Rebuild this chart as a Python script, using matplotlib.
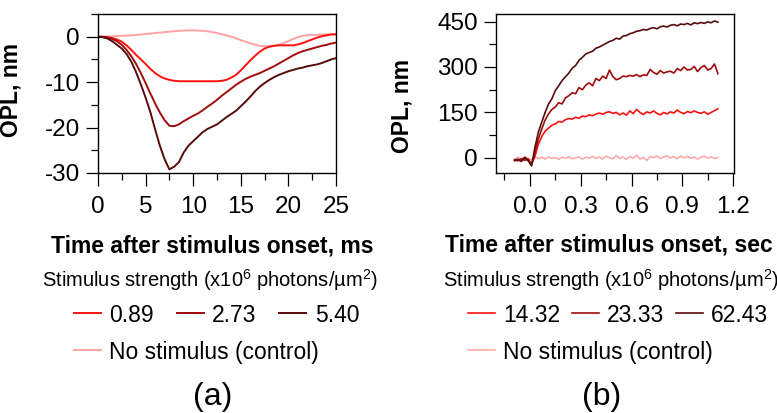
import numpy as np
import matplotlib
matplotlib.use("Agg")
import matplotlib.pyplot as plt
from matplotlib.ticker import MultipleLocator, FormatStrFormatter

plt.rcParams['font.family'] = ['Liberation Sans', 'DejaVu Sans']
plt.rcParams['mathtext.fontset'] = 'custom'
plt.rcParams['mathtext.rm'] = 'Liberation Sans'
plt.rcParams['mathtext.it'] = 'Liberation Sans:italic'
plt.rcParams['mathtext.bf'] = 'Liberation Sans:bold'
plt.rcParams['axes.unicode_minus'] = False

# ---- panel (a): OPL in ms after stimulus ----
t_ms = np.arange(0, 25.01, 0.5)
opl_089 = [0.0, 0.0, -0.1, -0.3, -0.6, -1.1, -1.9, -2.9, -4.0, -5.0,
           -6.0, -7.1, -8.0, -8.7, -9.2, -9.5, -9.7, -9.8, -9.8, -9.8,
           -9.8, -9.8, -9.8, -9.8, -9.8, -9.8, -9.7, -9.5, -9.0, -8.4,
           -7.4, -6.3, -5.2, -4.2, -3.3, -2.6, -2.2, -2.0, -1.9, -1.9,
           -1.9, -1.9, -1.7, -1.4, -1.0, -0.6, -0.2, 0.1, 0.3, 0.5, 0.5]
opl_273 = [0.0, -0.05, -0.2, -0.5, -1.0, -1.8, -2.9, -4.3, -6.0, -8.0,
           -10.2, -12.5, -14.7, -16.7, -18.4, -19.6, -19.7, -19.3, -18.6, -18.0,
           -17.4, -16.9, -16.2, -15.4, -14.7, -13.9, -13.0, -12.2, -11.4, -10.6,
           -9.9, -9.3, -8.8, -8.4, -8.0, -7.5, -7.0, -6.5, -5.9, -5.3,
           -4.7, -4.1, -3.6, -3.2, -2.9, -2.6, -2.3, -2.0, -1.8, -1.5, -1.3]
opl_540 = [0.0, -0.1, -0.4, -1.0, -1.8, -2.6, -3.8, -5.5, -7.8, -10.5,
           -13.4, -16.6, -20.4, -24.0, -27.0, -29.2, -28.6, -27.6, -25.5, -24.0,
           -23.0, -22.0, -21.0, -20.3, -19.8, -19.3, -18.5, -17.7, -17.0, -16.3,
           -15.3, -14.3, -13.2, -12.0, -11.0, -10.2, -9.5, -8.9, -8.4, -8.0,
           -7.6, -7.3, -7.0, -6.8, -6.5, -6.3, -6.1, -5.8, -5.4, -5.0, -4.7]
opl_ctrl_a = [0.0, 0.0, 0.05, 0.1, 0.15, 0.2, 0.25, 0.3, 0.4, 0.5,
              0.6, 0.7, 0.8, 0.9, 1.0, 1.1, 1.2, 1.3, 1.35, 1.4,
              1.4, 1.35, 1.3, 1.2, 1.0, 0.8, 0.55, 0.3, 0.0, -0.35,
              -0.75, -1.1, -1.45, -1.75, -2.0, -2.1, -2.1, -2.0, -1.75, -1.4,
              -0.95, -0.5, -0.1, 0.2, 0.35, 0.4, 0.4, 0.45, 0.5, 0.55, 0.6]

# ---- panel (b): OPL in seconds after stimulus ----
t_sec = np.arange(-0.09, 1.1101, 0.02)
opl_1432 = [-10, -5, -8, 0, -6, -20, 5, 45, 70, 88,
            98, 108, 112, 120, 118, 126, 130, 128, 134, 131,
            138, 136, 142, 139, 145, 148, 144, 150, 152, 147,
            150, 142, 148, 141, 155, 146, 160, 150, 143, 152,
            148, 155, 147, 142, 150, 145, 152, 148, 158, 150,
            146, 153, 149, 155, 150, 147, 152, 144, 150, 156, 162]
opl_2333 = [-6, -10, -3, -8, -4, -22, 18, 62, 95, 125,
            145, 160, 168, 182, 178, 198, 205, 215, 212, 232,
            225, 240, 248, 238, 262, 255, 270, 262, 290, 268,
            258, 262, 270, 268, 272, 270, 275, 268, 274, 272,
            292, 282, 276, 288, 280, 284, 286, 280, 295, 288,
            300, 290, 292, 302, 285, 298, 305, 290, 295, 310, 278]
opl_6243 = [-8, -5, -12, 2, -10, -27, 35, 85, 118, 150,
            178, 195, 222, 238, 255, 268, 280, 296, 305, 322,
            332, 343, 348, 352, 362, 366, 372, 378, 384, 388,
            395, 392, 402, 404, 410, 413, 418, 420, 424, 422,
            427, 430, 426, 433, 435, 432, 438, 440, 436, 442,
            440, 444, 439, 446, 443, 447, 444, 449, 446, 452, 448]
opl_ctrl_b = [-4, 2, -3, 3, -2, -6, 4, -3, 2, -4,
              3, -2, 1, -5, 2, -1, 4, -3, 0, 3,
              -4, 2, -1, 5, -2, 3, -4, 6, 0, -3,
              8, -2, 3, -5, 4, -1, 9, -4, 2, -9,
              5, 1, 6, -2, 3, 7, -1, 4, -3, 6,
              0, 5, -2, 3, -4, 2, 6, -1, 3, -2, 1]

labels_a = ['0.89', '2.73', '5.40']
labels_b = ['14.32', '23.33', '62.43']
ctrl_label = 'No stimulus (control)'
colors = ['#ff1010', '#a00c0c', '#560c0c']
ctrl_color = '#ffa3a3'

W, H = 777, 413
fig = plt.figure(figsize=(W / 100, H / 100), dpi=100)
axA = fig.add_axes([98 / W, 1 - 173 / H, 238 / W, 159 / H])
axB = fig.add_axes([496 / W, 1 - 173 / H, 238 / W, 159 / H])

fs = 16.5

# panel a lines
ctrlA, = axA.plot(t_ms, opl_ctrl_a, color=ctrl_color, lw=1.4)
linesA = []
for y, c, lab in zip([opl_089, opl_273, opl_540], colors, labels_a):
    l, = axA.plot(t_ms, y, color=c, lw=1.4, label=lab)
    linesA.append(l)
axA.set_xlim(0, 25)
axA.set_ylim(-30, 5)
axA.xaxis.set_major_locator(MultipleLocator(5))
axA.xaxis.set_minor_locator(MultipleLocator(2.5))
axA.yaxis.set_major_locator(MultipleLocator(10))
axA.yaxis.set_minor_locator(MultipleLocator(5))

# panel b lines
ctrlB, = axB.plot(t_sec, opl_ctrl_b, color=ctrl_color, lw=1.1)
linesB = []
for y, c, lab in zip([opl_1432, opl_2333, opl_6243], colors, labels_b):
    l, = axB.plot(t_sec, y, color=c, lw=1.2, label=lab)
    linesB.append(l)
axB.set_xlim(-0.2, 1.205)
axB.set_ylim(-50, 475)
axB.xaxis.set_major_locator(MultipleLocator(0.3))
axB.xaxis.set_minor_locator(MultipleLocator(0.15))
axB.xaxis.set_major_formatter(FormatStrFormatter('%.1f'))
axB.yaxis.set_major_locator(MultipleLocator(150))
axB.yaxis.set_minor_locator(MultipleLocator(75))

for ax in (axA, axB):
    for s in ax.spines.values():
        s.set_linewidth(1.0)
    ax.tick_params(which='major', direction='out', length=9, width=0.9,
                   labelsize=17.5, pad=4)
    ax.tick_params(which='minor', direction='out', length=4.8, width=0.9)
    ax.tick_params(axis='x', which='major', pad=7.5)

axA.set_ylabel('OPL, nm', fontsize=fs, fontweight='bold')
axA.yaxis.set_label_coords(-0.317, 0.52)
axB.set_ylabel('OPL, nm', fontsize=fs, fontweight='bold')
axB.yaxis.set_label_coords(-0.345, 0.42)

axA.set_xlabel('Time after stimulus onset, ms', fontsize=fs,
               fontweight='bold', va='baseline')
axA.xaxis.set_label_coords(0.479, -0.503)
axB.set_xlabel('Time after stimulus onset, sec', fontsize=fs,
               fontweight='bold', va='baseline')
axB.xaxis.set_label_coords(0.475, -0.495)

sub = 'Stimulus strength (x10$^{6}$ photons/µm$^{2}$)'
fig.text(210 / W, 1 - 287 / H, sub, fontsize=14.5, ha='center', va='baseline')
fig.text(443 / W, 1 - 287 / H, sub, fontsize=14.5, ha='left', va='baseline')

def add_legends(ax, lines, ctrl, x0, colsp):
    leg1 = ax.legend(handles=lines, ncol=3, loc='center left',
                     bbox_to_anchor=(x0 / W, 1 - 315 / H),
                     bbox_transform=fig.transFigure, frameon=False,
                     fontsize=fs, handlelength=1.18, handletextpad=0.36,
                     columnspacing=colsp, borderpad=0, borderaxespad=0)
    ax.add_artist(leg1)
    ax.legend(handles=[ctrl], labels=[ctrl_label], loc='center left',
              bbox_to_anchor=(x0 / W, 1 - 352 / H),
              bbox_transform=fig.transFigure, frameon=False,
              fontsize=fs, handlelength=1.18, handletextpad=0.36,
              borderpad=0, borderaxespad=0)

add_legends(axA, linesA, ctrlA, 74, 1.0)
add_legends(axB, linesB, ctrlB, 468, 0.5)

fig.text(213 / W, 1 - 405 / H, '(a)', fontsize=23, ha='center', va='baseline')
fig.text(602 / W, 1 - 405 / H, '(b)', fontsize=23, ha='center', va='baseline')

fig.savefig('out.png', dpi=100)
